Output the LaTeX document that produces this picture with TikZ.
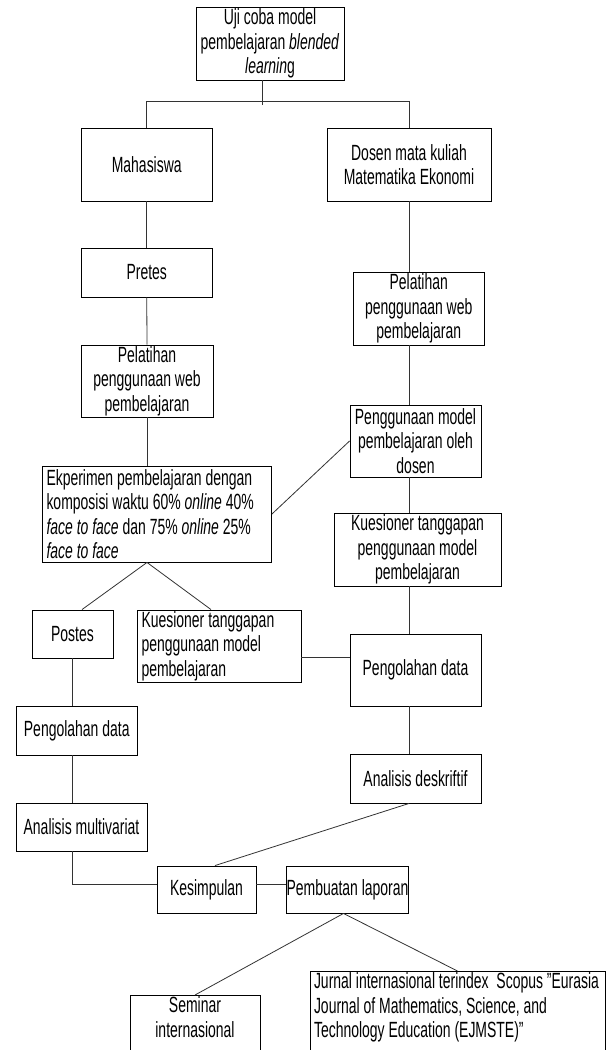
\documentclass[tikz,border=0pt]{standalone}
\usepackage{fontspec}
\setmainfont{Liberation Sans}[FakeStretch=0.635]
\usetikzlibrary{calc}
\begin{document}
\begin{tikzpicture}[x=1pt,y=-1pt,
  box/.style={draw=black,line width=0.9pt,inner sep=0pt,align=center,font=\fontsize{22pt}{24.5pt}\selectfont},
  conn/.style={draw=black!80,line width=0.8pt}]
\useasboundingbox (0,0) rectangle (606,1050);
\clip (0,0) rectangle (606,1050);
\fill[white] (0,0) rectangle (606,1050);

\node[box,minimum width=148pt,minimum height=73pt] (top) at (270,43.5) {Uji coba model\\pembelajaran \textit{blended}\\\textit{learnin}g};
\node[box,minimum width=131.5pt,minimum height=73pt] (maha) at (146.75,164.5) {Mahasiswa};
\node[box,minimum width=164pt,minimum height=73pt] (dosen) at (409,164.5) {Dosen mata kuliah\\Matematika Ekonomi};
\node[box,minimum width=131.5pt,minimum height=49pt] (pretes) at (146.75,272.5) {Pretes};
\node[box,minimum width=132pt,minimum height=72pt] (pelL) at (147,381) {Pelatihan\\penggunaan web\\pembelajaran};
\node[box,minimum width=130.5pt,minimum height=73pt] (pelR) at (418.75,308.5) {Pelatihan\\penggunaan web\\pembelajaran};
\node[box,minimum width=131pt,minimum height=72pt] (peng) at (415.5,441) {Penggunaan model\\pembelajaran oleh\\dosen};
\node[box,minimum width=229.5pt,minimum height=96pt] (eksp) at (156.75,514) {\parbox{220.5pt}{\raggedright Ekperimen pembelajaran dengan\\komposisi waktu 60\% \textit{online} 40\%\\\textit{face to face} dan 75\% \textit{online} 25\%\\\textit{face to face}}};
\node[box,minimum width=167pt,minimum height=73pt] (kuesR) at (417.5,549.5) {Kuesioner tanggapan\\penggunaan model\\pembelajaran};
\node[box,minimum width=81pt,minimum height=48pt] (postes) at (72.5,634) {Postes};
\node[box,minimum width=164pt,minimum height=72pt] (kuesL) at (219,646) {\parbox{155pt}{\raggedright Kuesioner tanggapan\\penggunaan model\\pembelajaran}};
\node[box,minimum width=131pt,minimum height=72pt] (olahR) at (415.5,670) {Pengolahan data};
\node[box,minimum width=121.5pt,minimum height=49pt] (olahL) at (76.75,730.5) {Pengolahan data};
\node[box,minimum width=131pt,minimum height=49pt] (desk) at (415.5,778.5) {Analisis deskriftif};
\node[box,minimum width=131pt,minimum height=48pt] (multi) at (81.5,827) {Analisis multivariat};
\node[box,minimum width=99pt,minimum height=47pt] (kes) at (206.5,889.5) {Kesimpulan};
\node[box,minimum width=119pt,minimum height=47pt] (lap) at (347.5,889.5) {Pembuatan laporan};
\node[box,anchor=north] (sem) at (195,995) {\parbox[t][75pt][t]{130pt}{\centering\strut Seminar\\internasional}};
\node[box,anchor=north] (jur) at (457.5,971) {\parbox[t][95pt][t]{295pt}{\raggedright\leftskip=4pt\strut Jurnal internasional terindex\ \ Scopus \symbol{34}Eurasia\\Journal of Mathematics, Science, and\\Technology Education (EJMSTE)”}};

\draw[conn] ([xshift=-8pt]top.south) -- ++(0,25);
\draw[conn] (maha.north) -- ++(0,-26) -| (dosen.north);
\draw[conn] (maha.south) -- (pretes.north);
\draw[conn] (pretes.south) -- (pelL.north);
\draw[conn] (pelL.south) -- (pelL.south |- eksp.north);
\draw[conn] (dosen.south) -- (dosen.south |- pelR.north);
\draw[conn] (dosen.south |- pelR.south) -- (dosen.south |- peng.north);
\draw[conn] (dosen.south |- peng.south) -- (dosen.south |- kuesR.north);
\draw[conn] (dosen.south |- kuesR.south) -- (dosen.south |- olahR.north);
\draw[conn] (dosen.south |- olahR.south) -- (dosen.south |- desk.north);
\draw[conn] (eksp.east) -- (peng.west);
\draw[conn] (pelL.south |- eksp.south) -- ($(postes.north)+(9.5,0)$);
\draw[conn] (pelL.south |- eksp.south) -- ($(kuesL.north)+(-8,0)$);
\coordinate (k1) at ($(kuesL.east)+(0,11)$);
\draw[conn] (k1) -- (k1 -| olahR.west);
\draw[conn] (postes.south) -- (postes.south |- olahL.north);
\draw[conn] (postes.south |- olahL.south) -- (postes.south |- multi.north);
\coordinate (k2) at ($(kes.west)+(0,-5.5)$);
\draw[conn] (postes.south |- multi.south) |- (k2);
\draw[conn] (kes.east |- k2) -- (lap.west |- k2);
\draw[conn] (dosen.south |- desk.south) -- ($(kes.north)+(8.5,0)$);
\draw[conn] ($(lap.south)+(-4,0)$) -- (sem.north);
\draw[conn] ($(lap.south)+(-4,0)$) -- (jur.north);
\end{tikzpicture}
\end{document}
